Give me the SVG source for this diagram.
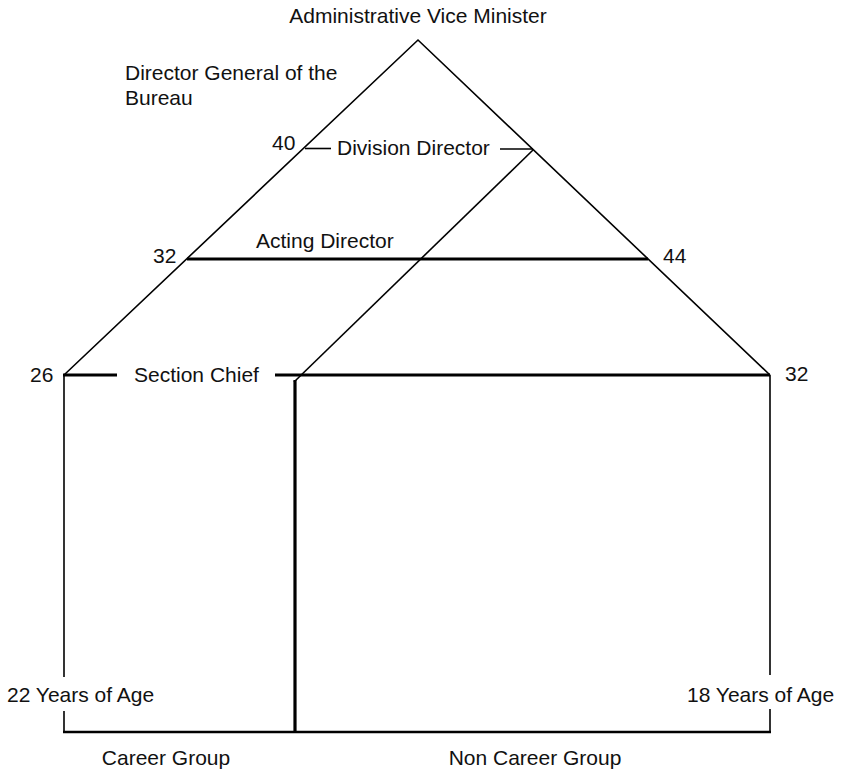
<svg xmlns="http://www.w3.org/2000/svg" width="841" height="773" viewBox="0 0 841 773">
<style>
text{font-family:"Liberation Sans",Arial,sans-serif;font-size:21px;fill:#111}
.thin{stroke:#000;stroke-width:1.6;fill:none}
.thick{stroke:#000;stroke-width:3.2;fill:none}
.mid{stroke:#000;stroke-width:2.4;fill:none}
</style>
<rect width="841" height="773" fill="#fff"/>
<g id="connectors">
<polyline class="thin" points="64,375 418,40 770,375"/>
<line class="thin" x1="533" y1="150" x2="294" y2="382"/>
<line class="thin" x1="305" y1="148.5" x2="331" y2="148.5"/>
<line class="thin" x1="500" y1="149" x2="533" y2="149"/>
<line class="thick" x1="187" y1="259" x2="648" y2="259"/>
<line class="thick" x1="63" y1="375" x2="117" y2="375"/>
<line class="thick" x1="275" y1="375" x2="770" y2="375"/>
<line class="thin" x1="64" y1="375" x2="64" y2="677"/>
<line class="thin" x1="64" y1="711" x2="64" y2="732"/>
<line class="thin" x1="770" y1="375" x2="770" y2="675"/>
<line class="thin" x1="770" y1="709" x2="770" y2="732"/>
<line class="mid" x1="63" y1="732" x2="771" y2="732"/>
<line class="thick" x1="295" y1="380" x2="295" y2="732"/>
</g>
<g id="admin-vice-minister"><text x="418" y="23" text-anchor="middle">Administrative Vice Minister</text></g>
<g id="director-general"><text x="125" y="80">Director General of the</text><text x="125" y="105">Bureau</text></g>
<g id="division-director"><text x="272" y="150">40</text><text x="337" y="155">Division Director</text></g>
<g id="acting-director"><text x="153" y="263">32</text><text x="256" y="248">Acting Director</text><text x="663" y="263">44</text></g>
<g id="section-chief"><text x="30" y="382">26</text><text x="134" y="382">Section Chief</text><text x="785" y="381">32</text></g>
<g id="age-labels"><text x="7" y="702">22 Years of Age</text><text x="687" y="702">18 Years of Age</text></g>
<g id="groups"><text x="166" y="765" text-anchor="middle">Career Group</text><text x="535" y="765" text-anchor="middle">Non Career Group</text></g>
</svg>
